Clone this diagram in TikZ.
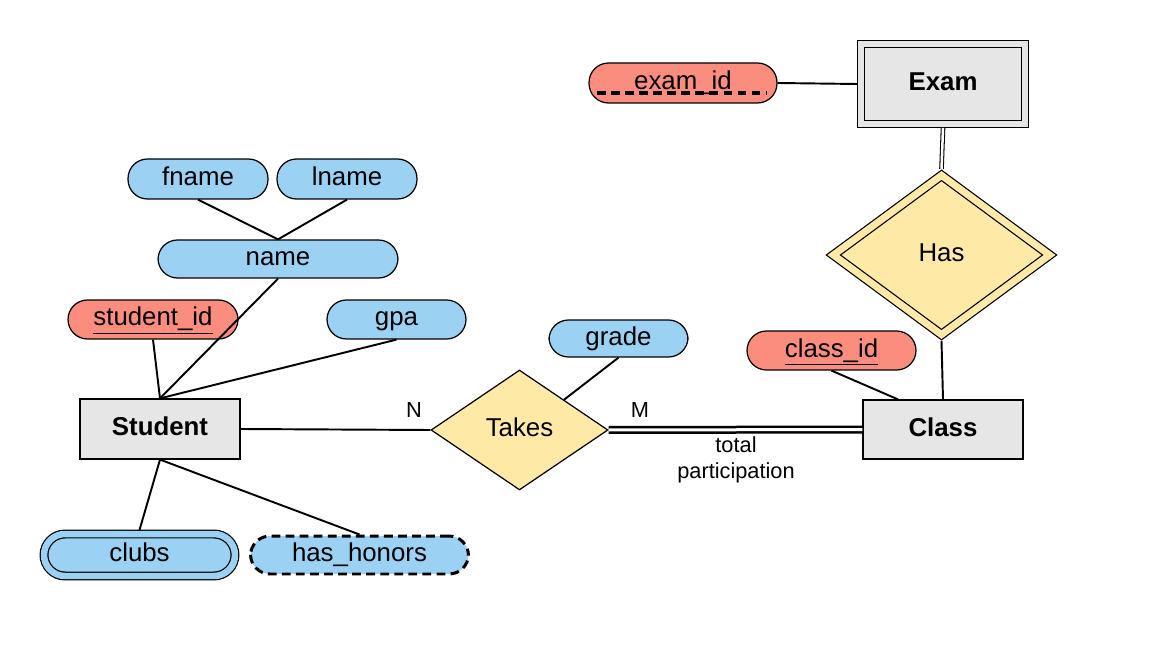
\documentclass[tikz,border=0pt]{standalone}
\usepackage{fontspec}
\setmainfont{Liberation Sans}
\usepackage{tikz}
\usetikzlibrary{shapes.geometric}

\definecolor{attrblue}{RGB}{155,209,243}
\definecolor{keyred}{RGB}{250,141,126}
\definecolor{relyellow}{RGB}{255,233,166}
\definecolor{entgray}{RGB}{230,230,230}

\begin{document}
\begin{tikzpicture}[x=0.02cm, y=-0.02cm,
  every node/.style={font=\fontsize{14.7}{17}\selectfont, inner sep=0pt},
  conn/.style={line width=1.1pt},
  boxtext/.style={text height=9pt, text depth=1.6pt},
  attr/.style={draw, boxtext, line width=0.7pt, fill=attrblue, rounded corners=0.39cm, minimum height=0.78cm},
  keyattr/.style={attr, fill=keyred},
  entity/.style={draw, boxtext, line width=0.7pt, fill=entgray, font=\fontsize{14.7}{17}\selectfont\bfseries, minimum width=3.2cm, minimum height=1.2cm},
  rel/.style={draw, boxtext, diamond, line width=0.7pt, fill=relyellow},
  card/.style={font=\fontsize{12.4}{14.7}\selectfont}]
  \useasboundingbox (0,0) rectangle (1152,648);

  % entities
  \node[entity] (student) at (160,429) {Student};
  \node[entity, minimum height=1.18cm] (class) at (943,429.5) {Class};
  \node[entity, double=entgray, double distance=0.12cm, outer sep=0.08cm, minimum width=3.28cm, minimum height=1.6cm] (exam) at (943,84) {Exam};

  % relationships
  \node[rel, minimum width=3.54cm, minimum height=2.4cm] (takes) at (519.5,430) {Takes};
  \node[rel, double=relyellow, double distance=0.14cm, outer sep=0.09cm, minimum width=4.4cm, minimum height=3.26cm] (has) at (941.5,255) {Has};

  % attributes
  \node[attr, minimum width=2.8cm, minimum height=0.8cm] (fname) at (198,179) {fname};
  \node[attr, minimum width=2.8cm, minimum height=0.8cm] (lname) at (347,179) {lname};
  \node[attr, minimum width=4.8cm, minimum height=0.76cm] (name) at (278,259) {name};
  \node[keyattr, minimum width=3.4cm] (studentid) at (153,319.5) {\underline{student\_id}};
  \node[attr, minimum width=2.78cm] (gpa) at (396.5,319.5) {gpa};
  \node[attr, minimum width=2.78cm, minimum height=0.74cm] (grade) at (618.5,338.5) {grade};
  \node[keyattr, minimum width=3.38cm] (classid) at (831.5,350.5) {\underline{class\_id}};
  \node[keyattr, minimum width=3.76cm, minimum height=0.8cm] (examid) at (683,83) {exam\_id};
  \draw[line width=1.8pt, dash pattern=on 5pt off 3pt] ([xshift=-1.72cm,yshift=-0.2cm]examid.center) -- ([xshift=1.68cm,yshift=-0.2cm]examid.center);
  \node[attr, double=attrblue, double distance=0.13cm, outer sep=0.08cm, rounded corners=0.42cm, minimum width=3.82cm, minimum height=0.84cm] (clubs) at (139.5,555) {clubs};
  \node[attr, dashed, line width=1.7pt, dash pattern=on 5pt off 3pt, minimum width=4.36cm, minimum height=0.76cm] (honors) at (359.5,555) {has\_honors};

  % connectors
  \draw[conn] (fname.south) -- (name.north);
  \draw[conn] (lname.south) -- (name.north);
  \draw[conn] (name.south) -- (student.north);
  \draw[conn] (studentid.south) -- (student.north);
  \draw[conn] (gpa.south) -- (student.north);
  \draw[conn] (student.south) -- (clubs.north);
  \draw[conn] (student.south) -- (honors.north);
  \draw[conn] (student.east) -- (takes.west);
  \draw[conn] (grade.south) -- (takes.north east);
  \draw[line width=0.05cm, double, double distance=0.06cm] (takes.east) -- (class.west);
  \draw[conn] (classid.south) -- ([xshift=-0.9cm]class.north);
  \draw[conn] (has.south) -- (class.north);
  \draw[line width=0.6pt, double, double distance=0.05cm] (exam.south) -- (has.north);
  \draw[conn] (examid.east) -- (exam.west);

  % labels
  \node[card] (ncard) at (414,410) {N};
  \node[card] (mcard) at (640,410) {M};
  \node[card, align=center] (total) at (736,460) {total\\participation};
\end{tikzpicture}
\end{document}
